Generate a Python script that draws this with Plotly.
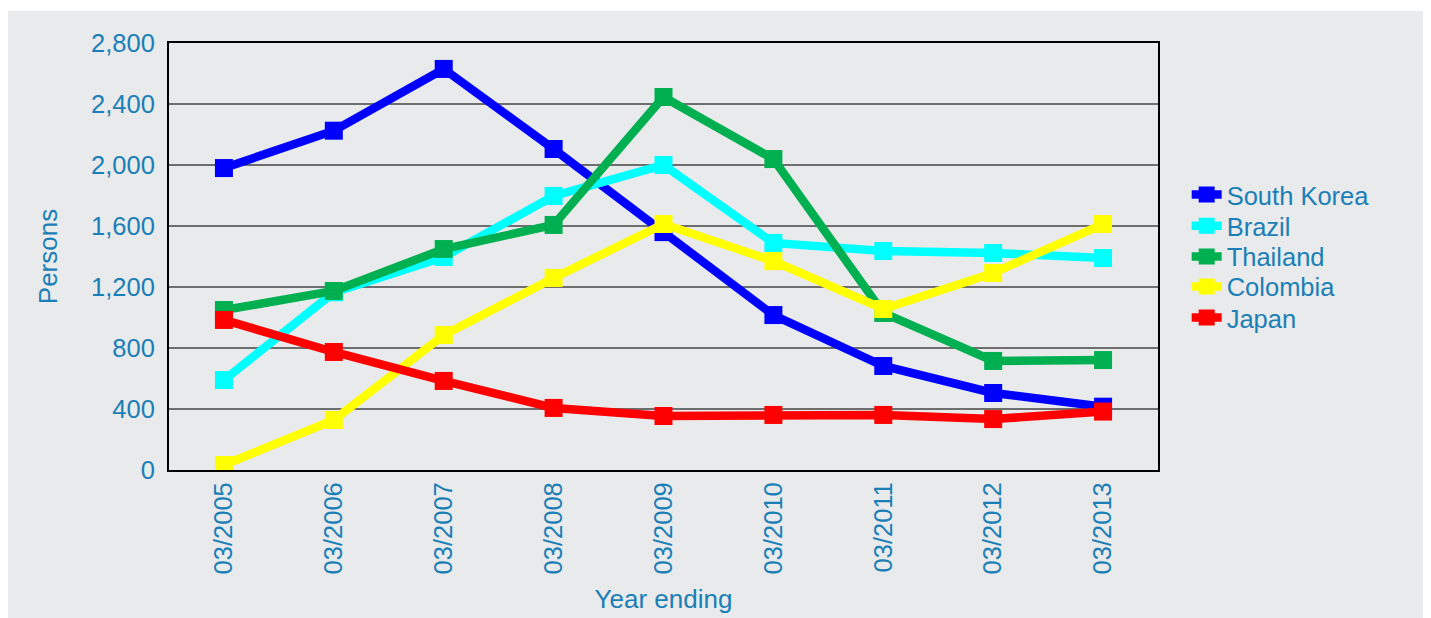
import plotly.graph_objects as go

years = ["03/2005", "03/2006", "03/2007", "03/2008", "03/2009",
         "03/2010", "03/2011", "03/2012", "03/2013"]
south_korea = [1980, 2225, 2630, 2105, 1560, 1016, 682, 505, 415]
brazil = [590, 1165, 1397, 1797, 2000, 1489, 1436, 1423, 1390]
thailand = [1049, 1174, 1449, 1607, 2446, 2039, 1030, 715, 721]
colombia = [33, 328, 885, 1259, 1613, 1370, 1056, 1292, 1613]
japan = [984, 774, 584, 407, 354, 361, 361, 334, 383]

series = [
    ("South Korea", south_korea, "#0000ff"),
    ("Brazil", brazil, "#00ffff"),
    ("Thailand", thailand, "#00b050"),
    ("Colombia", colombia, "#ffff00"),
    ("Japan", japan, "#ff0000"),
]

txt = "#1a7fb6"
bg = "#e9eaec"
legend_y = [0.644, 0.571, 0.499, 0.429, 0.356]

fig = go.Figure()
legends = {}
for i, (name, vals, col) in enumerate(series):
    key = "legend" if i == 0 else f"legend{i + 1}"
    fig.add_trace(go.Scatter(
        x=years, y=vals, name=name, mode="lines+markers",
        line=dict(color=col, width=8.5),
        marker=dict(symbol="square", size=18, color=col),
        legend=key,
    ))
    legends[key] = dict(x=1.029, y=legend_y[i], xanchor="left", yanchor="middle",
                        bgcolor="rgba(0,0,0,0)", font=dict(size=25.5, color=txt),
                        itemwidth=30)

fig.update_layout(
    width=1431, height=618,
    margin=dict(l=161, r=281, t=35, b=156),
    paper_bgcolor="white", plot_bgcolor=bg,
    font=dict(family="Liberation Sans, Arial, sans-serif", color=txt, size=25.5),
    showlegend=True,
    shapes=[dict(type="rect", xref="paper", yref="paper",
                 x0=-0.17, x1=1.273, y0=-0.45, y1=1.075,
                 fillcolor=bg, line=dict(width=0), layer="below")],
    **legends,
)
fig.update_xaxes(
    type="category", range=[-0.5, 8.5], tickangle=-90,
    showline=True, linecolor="black", linewidth=2, mirror=True,
    showgrid=False, ticks="", tickfont=dict(size=25.5, color=txt),
    title=dict(text="Year ending", font=dict(size=26, color=txt), standoff=16),
)
fig.update_yaxes(
    range=[0, 2800], tickvals=[0, 400, 800, 1200, 1600, 2000, 2400, 2800],
    tickformat=",d", showline=True, linecolor="black", linewidth=2, mirror=True,
    showgrid=True, gridcolor="#6e6e6e", gridwidth=2, zeroline=False,
    ticks="", ticklabelstandoff=7, tickfont=dict(size=25.5, color=txt),
    title=dict(text="Persons", font=dict(size=26, color=txt), standoff=26),
)
fig.write_html("out.html")
